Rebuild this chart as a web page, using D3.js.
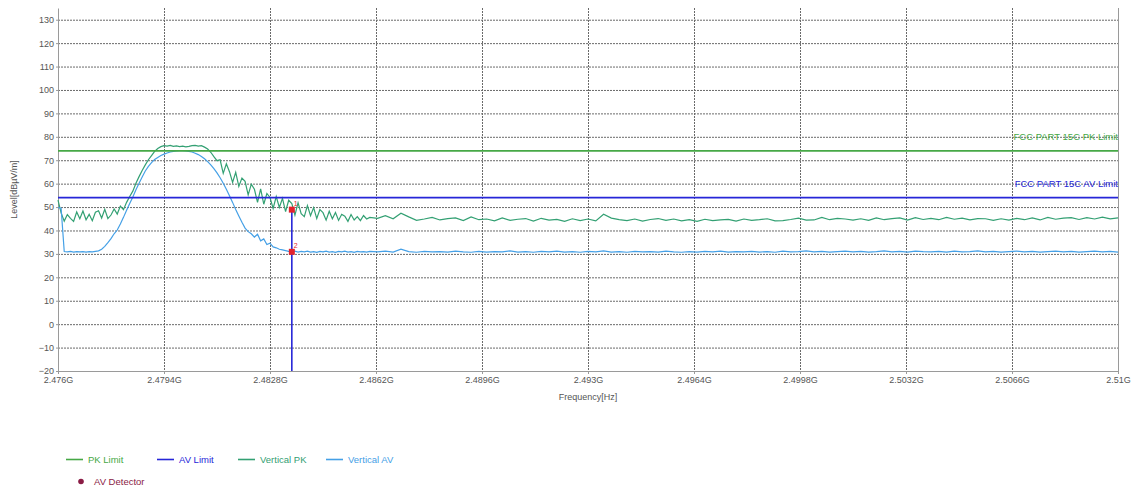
<!DOCTYPE html>
<html><head><meta charset="utf-8">
<script src="https://cdn.jsdelivr.net/npm/d3@7"></script>
<style>
body{margin:0;background:#fff}
svg{display:block;font-family:"Liberation Sans",Arial,sans-serif}
</style>
</head><body><svg id="c" width="1137" height="490"></svg>
<script>
// ---------- DATA ----------
const xTicksMHz = [2476, 2479.4, 2482.8, 2486.2, 2489.6, 2493, 2496.4, 2499.8, 2503.2, 2506.6, 2510];
const xTickLabels = ["2.476G","2.4794G","2.4828G","2.4862G","2.4896G","2.493G","2.4964G","2.4998G","2.5032G","2.5066G","2.51G"];
const yTicks = [-20,-10,0,10,20,30,40,50,60,70,80,90,100,110,120,130];

const freqMHz = [
2476.0,2476.1,2476.2,2476.3,2476.4,2476.5,2476.6,2476.7,2476.8,2476.9,
2477.0,2477.1,2477.2,2477.3,2477.4,2477.5,2477.6,2477.7,2477.8,2477.9,
2478.0,2478.1,2478.2,2478.3,2478.4,2478.5,2478.6,2478.7,2478.8,2478.9,
2479.0,2479.1,2479.2,2479.3,2479.4,2479.5,2479.6,2479.7,2479.8,2479.9,
2480.0,2480.1,2480.2,2480.3,2480.4,2480.5,2480.6,2480.7,2480.8,2480.9,
2481.0,2481.1,2481.2,2481.3,2481.4,2481.5,2481.6,2481.7,2481.8,2481.9,
2482.0,2482.1,2482.2,2482.3,2482.4,2482.5,2482.6,2482.7,2482.8,2482.9,
2483.0,2483.1,2483.2,2483.3,2483.4,2483.5,2483.6,2483.7,2483.8,2483.9,
2484.0,2484.1,2484.2,2484.3,2484.4,2484.5,2484.6,2484.7,2484.8,2484.9,
2485.0,2485.1,2485.2,2485.3,2485.4,2485.5,2485.6,2485.7,2485.8,2485.9,
2486.0,
2486.25,2486.5,2486.75,2487.0,2487.25,2487.5,2487.75,2488.0,
2488.25,2488.5,2488.75,2489.0,2489.25,2489.5,2489.75,2490.0,
2490.25,2490.5,2490.75,2491.0,2491.25,2491.5,2491.75,2492.0,
2492.25,2492.5,2492.75,2493.0,2493.25,2493.5,2493.75,2494.0,
2494.25,2494.5,2494.75,2495.0,2495.25,2495.5,2495.75,2496.0,
2496.25,2496.5,2496.75,2497.0,2497.25,2497.5,2497.75,2498.0,
2498.25,2498.5,2498.75,2499.0,2499.25,2499.5,2499.75,2500.0,
2500.25,2500.5,2500.75,2501.0,2501.25,2501.5,2501.75,2502.0,
2502.25,2502.5,2502.75,2503.0,2503.25,2503.5,2503.75,2504.0,
2504.25,2504.5,2504.75,2505.0,2505.25,2505.5,2505.75,2506.0,
2506.25,2506.5,2506.75,2507.0,2507.25,2507.5,2507.75,2508.0,
2508.25,2508.5,2508.75,2509.0,2509.25,2509.5,2509.75,2510.0
];

const verticalPK = [
53.0,47.5,44.0,46.8,45.2,43.9,47.9,45.0,48.3,44.6,
46.9,44.2,47.8,48.4,45.3,49.0,45.1,46.6,49.2,47.0,
50.4,48.9,52.0,54.5,56.8,60.2,63.0,65.6,68.0,70.2,
72.0,73.8,75.0,75.8,76.2,76.0,76.3,75.9,76.1,75.8,
76.0,75.7,75.9,76.2,76.3,76.0,76.2,75.6,74.8,73.4,
71.5,69.8,70.2,64.4,68.5,65.1,60.5,64.8,58.8,62.4,
61.0,55.2,59.8,57.6,52.0,57.8,51.2,55.8,54.1,49.4,
54.5,49.8,53.7,48.1,52.9,51.5,46.6,51.8,47.2,45.9,
50.6,46.3,49.8,45.1,48.9,47.6,44.4,48.2,45.0,47.7,
44.3,46.9,46.1,43.9,46.8,44.5,45.9,44.2,46.4,44.9,
45.6,
45.2,46.3,45.0,47.4,45.8,44.3,44.9,45.6,
44.5,45.1,45.4,44.2,45.8,44.6,44.9,44.1,
45.4,44.3,44.8,45.1,44.0,45.2,44.4,44.7,
43.9,45.0,44.2,44.9,44.1,46.9,45.3,44.6,
44.2,44.9,44.0,44.7,45.1,44.3,44.9,44.1,
44.6,43.9,44.8,44.2,44.5,44.7,44.0,44.9,
44.3,44.6,45.0,44.1,44.2,44.7,45.3,44.4,
44.5,45.6,44.6,45.2,44.9,44.4,45.0,44.3,
45.4,44.6,45.1,45.4,44.4,45.5,44.7,45.2,
44.6,45.6,44.8,45.3,44.5,45.1,45.0,44.3,
45.0,44.4,45.2,44.6,45.4,44.5,45.6,44.8,
45.3,45.5,44.7,45.5,44.9,45.7,45.0,45.4
];

const verticalAV = [
49.8,49.5,31.0,30.9,31.1,30.8,31.0,30.9,31.0,30.8,
31.0,30.9,31.1,31.3,32.0,33.2,34.8,36.5,38.6,40.2,
42.8,45.6,48.6,51.5,54.3,57.4,60.2,62.8,65.4,67.4,
69.0,70.3,71.2,72.0,72.6,73.1,73.5,73.8,74.0,74.1,
74.1,74.0,73.8,73.5,73.0,72.4,71.6,70.6,69.4,68.0,
66.4,64.6,62.5,60.2,57.6,54.8,52.0,49.0,46.2,43.5,
41.0,39.5,38.6,37.2,38.4,35.6,36.4,34.0,34.6,33.0,
32.6,32.0,31.7,31.4,31.1,30.9,31.2,30.8,31.1,30.9,
31.2,30.8,31.0,30.7,31.1,30.9,31.2,30.8,31.0,30.7,
31.1,30.9,31.2,30.8,31.0,30.7,31.1,30.9,31.0,30.8,
31.1,
30.9,31.2,30.8,32.0,31.0,30.7,31.1,30.9,
31.0,30.8,31.2,30.9,30.7,31.1,30.8,31.0,
30.9,31.3,30.8,31.0,30.7,31.1,30.9,31.2,
30.8,31.0,30.7,31.1,30.9,31.3,30.8,31.0,
30.7,31.1,30.9,31.0,30.8,31.2,30.9,30.7,
31.0,30.8,31.1,30.9,31.2,30.8,31.0,30.9,
31.1,30.8,31.0,30.7,31.2,30.9,31.0,31.3,
30.9,31.1,30.8,31.0,31.2,30.9,31.1,30.8,
31.0,31.3,30.9,31.1,30.8,31.2,31.0,30.9,
31.1,30.8,31.2,30.9,31.0,31.3,30.9,31.1,
30.8,31.0,31.2,30.9,31.1,30.8,31.0,31.2,
30.9,31.1,30.8,31.0,31.2,30.9,31.1,30.8
];

const limitFreqMHz = [2476, 2510];
const pkLimit = [74, 74];
const avLimit = [54, 54];
const pkLimitLabel = "FCC PART 15C PK Limit";
const avLimitLabel = "FCC PART 15C AV Limit";

const markerFreqMHz = [2483.5, 2483.5];
const markerLevel = [48.9, 30.9];
const markerLabels = ["1", "2"];

const legendNames = ["PK Limit", "AV Limit", "Vertical PK", "Vertical AV"];
const legendDetector = "AV Detector";

// ---------- STYLE ----------
const C = {
  pkLimit: "#46a846", avLimit: "#2626d8", pk: "#33a073", av: "#45a0e6",
  marker: "#e3232d", detector: "#8a1c45", grid: "#6a6a6a", axis: "#9a9a9a", text: "#555"
};

const svg = d3.select("#c");
const x = d3.scaleLinear().domain([2476, 2510]).range([58, 1118]);
const y = d3.scaleLinear().domain([-20, 135]).range([371, 8]);

// grid
const grid = svg.append("g");
grid.selectAll("line.h").data(yTicks.filter(d => d > -20)).enter().append("line")
  .attr("x1", x(2476)).attr("x2", x(2510))
  .attr("y1", d => y(d) + 0.5).attr("y2", d => y(d) + 0.5)
  .attr("stroke", C.grid).attr("stroke-width", 1).attr("stroke-dasharray", "2,1");
grid.selectAll("line.v").data(xTicksMHz.slice(1, -1)).enter().append("line")
  .attr("x1", d => Math.round(x(d)) + 0.5).attr("x2", d => Math.round(x(d)) + 0.5)
  .attr("y1", y(135)).attr("y2", y(-20))
  .attr("stroke", C.grid).attr("stroke-width", 1).attr("stroke-dasharray", "2,1");
// right border
svg.append("line").attr("x1", x(2510) + 0.5).attr("x2", x(2510) + 0.5)
  .attr("y1", y(135)).attr("y2", y(-20)).attr("stroke", C.axis);

// axes
const ax = svg.append("g").attr("transform", `translate(${x(2476)},0)`)
  .call(d3.axisLeft(y).tickValues(yTicks).tickSize(2).tickSizeOuter(0).tickPadding(2));
const bx = svg.append("g").attr("transform", `translate(0,${y(-20)})`)
  .call(d3.axisBottom(x).tickValues(xTicksMHz).tickFormat((d, i) => xTickLabels[i]).tickSize(3).tickSizeOuter(0).tickPadding(3));
[ax, bx].forEach(g => {
  g.select(".domain").attr("stroke", C.axis);
  g.selectAll(".tick line").attr("stroke", C.axis);
  g.selectAll(".tick text").attr("fill", C.text).style("font-size", "9px").style("font-family", '"Liberation Sans",Arial,sans-serif');
});

// axis titles
svg.append("text").attr("transform", `translate(17,${(y(135) + y(-20)) / 2}) rotate(-90)`)
  .attr("text-anchor", "middle").attr("fill", C.text).style("font-size", "9px").text("Level[dBµV/m]");
svg.append("text").attr("x", (x(2476) + x(2510)) / 2).attr("y", 400)
  .attr("text-anchor", "middle").attr("fill", C.text).style("font-size", "9px").text("Frequency[Hz]");

// traces
const line = d3.line().x(d => x(d[0])).y(d => y(d[1]));
svg.append("path").datum(freqMHz.map((f, i) => [f, verticalPK[i]]))
  .attr("d", line).attr("fill", "none").attr("stroke", C.pk).attr("stroke-width", 1.2);
svg.append("path").datum(freqMHz.map((f, i) => [f, verticalAV[i]]))
  .attr("d", line).attr("fill", "none").attr("stroke", C.av).attr("stroke-width", 1.2);

// limits
svg.append("path").datum(limitFreqMHz.map((f, i) => [f, pkLimit[i]]))
  .attr("d", line).attr("fill", "none").attr("stroke", C.pkLimit).attr("stroke-width", 1.8);
svg.append("path").datum(limitFreqMHz.map((f, i) => [f, avLimit[i]]))
  .attr("d", line).attr("fill", "none").attr("stroke", C.avLimit).attr("stroke-width", 1.8);
svg.append("text").attr("x", x(2510)).attr("y", y(80) + 3.5).attr("text-anchor", "end")
  .attr("fill", C.pkLimit).style("font-size", "9.5px").text(pkLimitLabel);
svg.append("text").attr("x", x(2510)).attr("y", y(60) + 3.5).attr("text-anchor", "end")
  .attr("fill", C.avLimit).style("font-size", "9.5px").text(avLimitLabel);

// marker line and markers
svg.append("line").attr("x1", x(markerFreqMHz[0])).attr("x2", x(markerFreqMHz[0]))
  .attr("y1", y(markerLevel[0])).attr("y2", y(-20))
  .attr("stroke", C.avLimit).attr("stroke-width", 1.6);
svg.selectAll("rect.mk").data(markerLevel).enter().append("rect")
  .attr("x", (d, i) => x(markerFreqMHz[i]) - 3).attr("y", d => y(d) - 3)
  .attr("width", 6).attr("height", 6).attr("fill", C.marker);
svg.selectAll("text.mk").data(markerLevel).enter().append("text")
  .attr("x", (d, i) => x(markerFreqMHz[i]) + 2).attr("y", d => y(d) - 4)
  .attr("fill", C.marker).style("font-size", "7px").text((d, i) => markerLabels[i]);

// legend
const legendColors = [C.pkLimit, C.avLimit, C.pk, C.av];
const legendX = [66, 157, 238, 326];
const lg = svg.append("g");
legendNames.forEach((n, i) => {
  lg.append("line").attr("x1", legendX[i]).attr("x2", legendX[i] + 17)
    .attr("y1", 459.5).attr("y2", 459.5).attr("stroke", legendColors[i]).attr("stroke-width", 1.6);
  lg.append("text").attr("x", legendX[i] + 22).attr("y", 463)
    .attr("fill", legendColors[i]).style("font-size", "9.5px").text(n);
});
lg.append("circle").attr("cx", 81).attr("cy", 481.5).attr("r", 2.8).attr("fill", C.detector);
lg.append("text").attr("x", 94).attr("y", 485).attr("fill", C.detector).style("font-size", "9.5px").text(legendDetector);
</script>
</body></html>
